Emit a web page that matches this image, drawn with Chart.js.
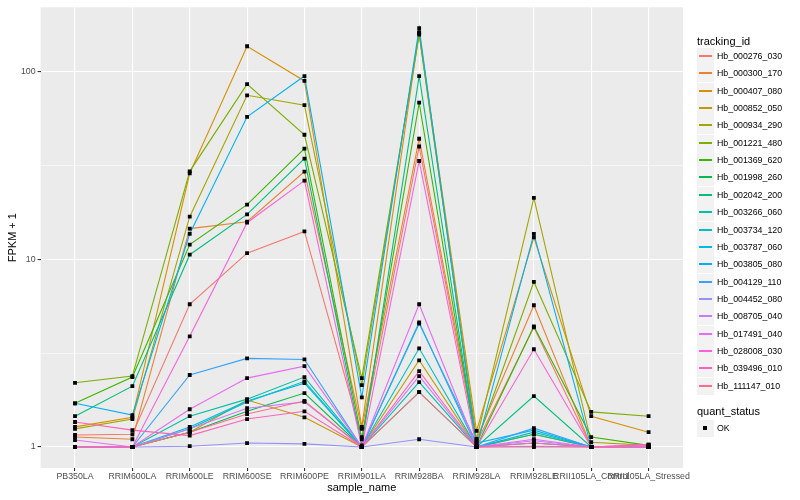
<!DOCTYPE html>
<html>
<head>
<meta charset="utf-8">
<script src="https://cdn.jsdelivr.net/npm/chart.js@4.4.1/dist/chart.umd.min.js"></script>
<style>
  body { margin: 0; background: #fff; }
  #wrap { position: relative; width: 800px; height: 500px; font-family: "Liberation Sans", Arial, sans-serif; }
  #legend .title { position: absolute; left: 697px; font-size: 11px; line-height: 14px; color: #000; white-space: nowrap; }
  #legend .key { position: absolute; left: 697px; width: 17px; height: 17px; background: #F2F2F2; }
  #legend .key span { position: absolute; left: 2px; width: 13px; top: 7px; height: 2px; }
  #legend .lab { position: absolute; left: 717px; font-size: 8.8px; line-height: 17px; color: #000; white-space: nowrap; }
</style>
</head>
<body>
<div id="wrap">
  <canvas id="chart" width="800" height="500"></canvas>
  <div id="legend"></div>
</div>
<script>
// sample names on the x axis
const categories = [
  "PB350LA", "RRIM600LA", "RRIM600LE", "RRIM600SE", "RRIM600PE", "RRIM901LA",
  "RRIM928BA", "RRIM928LA", "RRIM928LE", "RRII105LA_Control", "RRII105LA_Stressed"
];

const trackingIds = [
  "Hb_000276_030", "Hb_000300_170", "Hb_000407_080", "Hb_000852_050", "Hb_000934_290",
  "Hb_001221_480", "Hb_001369_620", "Hb_001998_260", "Hb_002042_200", "Hb_003266_060",
  "Hb_003734_120", "Hb_003787_060", "Hb_003805_080", "Hb_004129_110", "Hb_004452_080",
  "Hb_008705_040", "Hb_017491_040", "Hb_028008_030", "Hb_039496_010", "Hb_111147_010"
];

const seriesColors = [
  "#F8766D", "#EA8331", "#D89000", "#C09B00", "#A3A500", "#7CAE00", "#39B600",
  "#00BB4E", "#00BF7D", "#00C1A3", "#00BFC4", "#00BAE0", "#00B0F6", "#35A2FF",
  "#9590FF", "#C77CFF", "#E76BF3", "#FA62DB", "#FF62BC", "#FF6C90"
];

// FPKM + 1 per sample
const hb000276_030 = [1.16, 1.17, 5.77, 10.8, 14.1, 1.13, 40, 1.05, 4.35, 1.0, 1.0];
const hb000300_170 = [1.13, 1.10, 14.6, 15.9, 29.4, 1.25, 44, 1.1, 5.7, 1.0, 1.0];
const hb000407_080 = [1.28, 1.44, 28.8, 137, 89.5, 1.28, 163, 1.22, 13.1, 1.46, 1.2];
const hb000852_050 = [1.0, 1.0, 1.2, 1.78, 1.44, 1.0, 2.9, 1.0, 1.17, 1.0, 1.0];
const hb000934_290 = [1.25, 1.41, 16.9, 75, 66.5, 2.14, 161, 1.1, 21.3, 1.06, 1.02];
const hb001221_480 = [2.2, 2.39, 29.5, 86, 46.2, 2.33, 158, 1.05, 7.6, 1.54, 1.46];
const hb001369_620 = [1.71, 2.36, 12.0, 19.6, 39, 1.1, 68.5, 1.0, 4.4, 1.13, 1.02];
const hb001998_260 = [1.0, 1.0, 1.2, 1.55, 1.94, 1.0, 1.96, 1.0, 1.05, 1.0, 1.0];
const hb002042_200 = [1.46, 2.11, 10.6, 17.4, 34.5, 1.02, 95, 1.0, 1.87, 1.0, 1.0];
const hb003266_060 = [1.0, 1.0, 1.46, 1.8, 2.36, 1.0, 2.22, 1.0, 1.17, 1.0, 1.0];
const hb003734_120 = [1.0, 1.0, 1.25, 1.74, 2.24, 1.0, 3.36, 1.0, 1.2, 1.0, 1.0];
const hb003787_060 = [1.0, 1.0, 1.28, 1.76, 2.19, 1.0, 4.55, 1.05, 1.23, 1.0, 1.0];
const hb003805_080 = [1.71, 1.48, 13.7, 57.6, 95, 1.84, 171, 1.0, 13.7, 1.0, 1.0];
const hb004129_110 = [1.0, 1.0, 2.42, 2.97, 2.93, 1.0, 4.62, 1.0, 1.26, 1.0, 1.0];
const hb004452_080 = [1.0, 1.0, 1.01, 1.05, 1.04, 1.0, 1.1, 1.0, 1.0, 1.0, 1.0];
const hb008705_040 = [1.0, 1.0, 1.25, 1.61, 1.74, 1.0, 2.39, 1.0, 1.08, 1.0, 1.0];
const hb017491_040 = [1.09, 1.0, 1.59, 2.33, 2.7, 1.0, 5.77, 1.0, 1.1, 1.0, 1.0];
const hb028008_030 = [1.0, 1.0, 3.89, 15.7, 26.3, 1.0, 33.5, 1.0, 3.32, 1.0, 1.03];
const hb039496_010 = [1.36, 1.23, 1.15, 1.41, 1.55, 1.0, 2.54, 1.0, 1.05, 1.0, 1.03];
const hb111147_010 = [1.0, 1.0, 1.2, 1.5, 1.76, 1.0, 1.96, 1.0, 1.01, 1.0, 1.0];

const seriesValues = [
  hb000276_030, hb000300_170, hb000407_080, hb000852_050, hb000934_290,
  hb001221_480, hb001369_620, hb001998_260, hb002042_200, hb003266_060,
  hb003734_120, hb003787_060, hb003805_080, hb004129_110, hb004452_080,
  hb008705_040, hb017491_040, hb028008_030, hb039496_010, hb111147_010
];

// y grid: labelled decades plus minor lines half a decade between
const yTickLabels = [1, 10, 100];
const yGridValues = [1, 3.1623, 10, 31.623, 100];

const FONT = "'Liberation Sans', Arial, sans-serif";

const panelBg = {
  id: "panelBg",
  beforeDraw(chart) {
    const { ctx, chartArea: a } = chart;
    ctx.save();
    ctx.fillStyle = "#FFFFFF";
    ctx.fillRect(0, 0, chart.width, chart.height);
    ctx.fillStyle = "#EBEBEB";
    ctx.fillRect(a.left, a.top, a.right - a.left, a.bottom - a.top);
    ctx.restore();
  },
};

const isMajorY = (ctx) => ctx.tick && yTickLabels.includes(ctx.tick.value);

const datasets = seriesValues.map((vals, i) => ({
  label: trackingIds[i],
  data: vals.map((v, j) => ({ x: j, y: v })),
  borderColor: seriesColors[i],
  borderWidth: 1.1,
  pointRadius: 0,
  tension: 0,
  order: 20 - i,
}));

// points on top of every line, like geom_point after geom_line
datasets.push({
  label: "OK",
  data: seriesValues.flatMap((vals) => vals.map((v, j) => ({ x: j, y: v }))),
  showLine: false,
  pointStyle: "rect",
  pointRadius: 2.7,
  pointBackgroundColor: "#000000",
  pointBorderWidth: 0,
  order: 0,
});

new Chart(document.getElementById("chart"), {
  type: "line",
  data: { datasets },
  plugins: [panelBg],
  options: {
    responsive: false,
    animation: false,
    events: [],
    layout: { padding: { top: 5, right: 117, left: 0, bottom: 0 } },
    plugins: { legend: { display: false }, tooltip: { enabled: false } },
    scales: {
      x: {
        type: "linear",
        min: -0.6,
        max: 10.6,
        afterBuildTicks: (s) => {
          s.ticks = categories.map((c, i) => ({ value: i }));
        },
        afterFit: (s) => { s.height = 32; },
        ticks: {
          callback: (v) => categories[v],
          autoSkip: false,
          maxRotation: 0,
          minRotation: 0,
          padding: 0,
          color: "#4D4D4D",
          font: { family: FONT, size: 8.8 },
        },
        grid: { color: "#FFFFFF", lineWidth: 1.1, tickLength: 3, tickColor: "#333333" },
        border: { display: false },
        title: {
          display: true,
          text: "sample_name",
          color: "#000000",
          font: { family: FONT, size: 11 },
          padding: { top: 0, bottom: 5 },
        },
      },
      y: {
        type: "logarithmic",
        min: 0.773,
        max: 221,
        afterBuildTicks: (s) => {
          s.ticks = yGridValues.map((v) => ({ value: v }));
        },
        afterFit: (s) => { s.width = 40.6; },
        ticks: {
          callback: (v) => (yTickLabels.includes(v) ? String(v) : ""),
          autoSkip: false,
          padding: 2,
          color: "#4D4D4D",
          font: { family: FONT, size: 8.8 },
        },
        grid: {
          color: "#FFFFFF",
          lineWidth: (ctx) => (isMajorY(ctx) ? 1.1 : 0.55),
          tickLength: 3,
          tickColor: (ctx) => (isMajorY(ctx) ? "#333333" : "rgba(0,0,0,0)"),
        },
        border: { display: false },
        title: {
          display: true,
          text: "FPKM + 1",
          color: "#000000",
          font: { family: FONT, size: 11 },
          padding: { top: 6, bottom: 0 },
        },
      },
    },
  },
});

// ggplot-style legends on the right
const legend = document.getElementById("legend");
let html = '<div class="title" style="top:34px">tracking_id</div>';
trackingIds.forEach((id, i) => {
  const top = Math.round(48 + i * 17.35);
  html += `<div class="key" style="top:${top}px"><span style="background-color:${seriesColors[i]}"></span></div>`;
  html += `<div class="lab" style="top:${top}px">${id}</div>`;
});
html += '<div class="title" style="top:404px">quant_status</div>';
html += '<div class="key" style="top:420px"><span style="left:6px;top:6px;width:4px;height:4px;background-color:#000"></span></div>';
html += '<div class="lab" style="top:420px">OK</div>';
legend.innerHTML = html;
</script>
</body>
</html>
